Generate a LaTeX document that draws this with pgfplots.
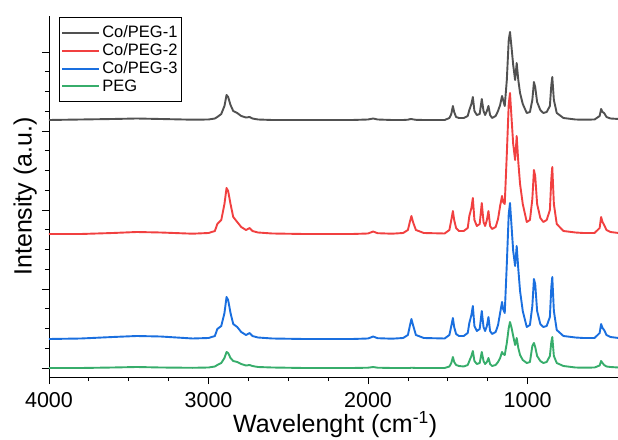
\documentclass[border=0pt]{standalone}
\usepackage{fontspec}
\setmainfont{Liberation Sans}
\usepackage{pgfplots}
\pgfplotsset{compat=1.18}
\usepackage{pgfplotstable}

\definecolor{cA}{HTML}{515151}
\definecolor{cB}{HTML}{F14040}
\definecolor{cC}{HTML}{1A6FDF}
\definecolor{cD}{HTML}{37AD6B}

\newcommand{\lf}{\fontsize{16.5}{20}\selectfont}

% FTIR spectra, peak heights above each baseline (w = wavenumber)
\pgfplotstableread{
w     B    R    U    G
4000  0    0    0    0
3800  0.5  0    0.5  0
3600  1    1    2    0.5
3450  1.5  2    3    1
3300  1    1.5  2.5  0.5
3100  0.3  0.3  0.5  0.2
3000  0.5  1    1    0.5
2960  1.5  3    3    1.5
2945  3    10   10   3
2920  6    14   13   5
2900  14   30   26   10
2887  25   46   42   16
2877  23   43   39   15
2862  15   30   26   10
2845  9    17   15   7
2820  7    12   12   6
2795  4    7    7    4
2765  2.5  4    4    2.5
2742  3    6    6    3
2725  1.5  3    3    2
2690  0.5  1.5  1.5  1
2600  0    0.5  0.5  0.5
2400  0    0    0    0
2100  0    0    0    0
2000  0.5  0.5  0.5  0.3
1968  1.5  2.5  2.5  1
1940  0.5  0.8  0.8  0.3
1850  0    0.3  0.3  0
1780  0    1    1    0
1750  0.3  4    4    0
1738  0.8  12   13   0
1728  1    18   20   0.3
1718  0.6  12   14   0.2
1700  0.2  4    4    0
1650  0    1    1    0
1520  0    0.5  0.5  0
1490  2    4    4    1.5
1478  6    14   13   5
1468  14   23   21   11
1460  8    14   12   6
1448  3    6    5    3
1430  2    3    3    2
1400  2    3    3    1.5
1375  4    6    6    3
1365  10   18   16   7
1352  16   26   24   12
1343  23   36   33   17
1333  9    14   13   7
1318  5    8    8    4
1300  6    10   10   5
1287  21   31   28   16
1276  9    12   12   7
1266  5    8    8    4
1255  9    14   13   6
1245  14   23   22   10
1235  5    8    8    4
1222  2    5    5    2
1200  4    7    7    3
1185  9    15   14   6
1172  15   28   26   10
1160  24   38   37   16
1153  20   32   30   14
1143  14   30   26   13
1130  40   80   75   25
1118  80   130  125  40
1110  88   141  136  46
1100  72   115  112  40
1090  55   90   88   32
1078  40   74   73   23
1068  57   98   93   30
1058  40   72   70   20
1047  27   50   48   13
1030  16   30   28   8
1005  7    12   12   5
985   8    14   14   6
970   20   35   33   22
960   38   64   60   25
952   33   58   55   21
940   18   30   28   12
920   10   16   15   7
901   7    12   12   5
880   8    14   13   6
860   14   24   22   12
851   35   55   52   26
845   43   67   62   31
835   20   30   28   12
817   7    10   9    5
775   2    3    3    2
700   0.5  1.5  1.5  0.5
650   0.3  1    1    0.3
580   0.5  1    1    0.5
548   4    6    6    2.5
539   11   17   15   7
530   8    12   11   5
520   7    9    9    3
505   3    4    4    1.5
480   1.5  2    2    1
430   1    1    1    0.5
}\spectra

\begin{document}
\begin{tikzpicture}
\begin{axis}[
    name=ax,
    scale only axis,
    width=569pt, height=361pt,
    x dir=reverse,
    xmin=433, xmax=4000,
    ymin=-9, ymax=352,
    axis x line*=bottom, axis y line*=left,
    axis line style={line width=0.8pt, black},
    xtick={1000,2000,3000,4000},
    minor x tick num=3,
    ytick={0,79,158,237,316},
    yticklabels={},
    minor y tick num=3,
    tick align=outside,
    major tick length=7pt, minor tick length=4pt,
    tick style={line width=0.8pt, black},
    /pgf/number format/assume math mode=true,
    /pgf/number format/1000 sep={},
    ticklabel style={font=\fontsize{21.5}{25}\selectfont},
    xticklabel style={yshift=-5pt},
    every axis x label/.style={at={(axis description cs:0.503,-0.155)}, anchor=base},
    every axis y label/.style={at={(axis description cs:-0.021,0.5)}, rotate=90, anchor=south, inner sep=0pt},
    label style={font=\fontsize{25}{30}\selectfont},
    xlabel={Wavelenght (cm\textsuperscript{-1})},
    ylabel={Intensity (a.u.)},
    legend cell align=left,
    legend image code/.code={\draw[#1] (0pt,0pt) -- (35pt,0pt); \path (0pt,0pt) -- (37pt,0pt);},
    legend style={at={(axis description cs:0.0176,0.997)}, anchor=north west,
        draw=black, line width=0.8pt,
        inner xsep=2pt, inner ysep=6.5pt, row sep=0.5pt},
    every axis plot/.append style={line width=1.9pt, line join=round},
]
\addplot[cA] table[x=w, y expr=\thisrow{B}+248] {\spectra};
\addlegendentry{\lf Co/PEG-1}
\addplot[cB] table[x=w, y expr=\thisrow{R}+134] {\spectra};
\addlegendentry{\lf Co/PEG-2}
\addplot[cC] table[x=w, y expr=\thisrow{U}+29] {\spectra};
\addlegendentry{\lf Co/PEG-3}
\addplot[cD] table[x=w, y expr=\thisrow{G}] {\spectra};
\addlegendentry{\lf PEG}
\end{axis}
\pgfresetboundingbox
\path (ax.south west) ++(-49pt,-62pt) rectangle ++(618pt,439pt);
\end{tikzpicture}
\end{document}
